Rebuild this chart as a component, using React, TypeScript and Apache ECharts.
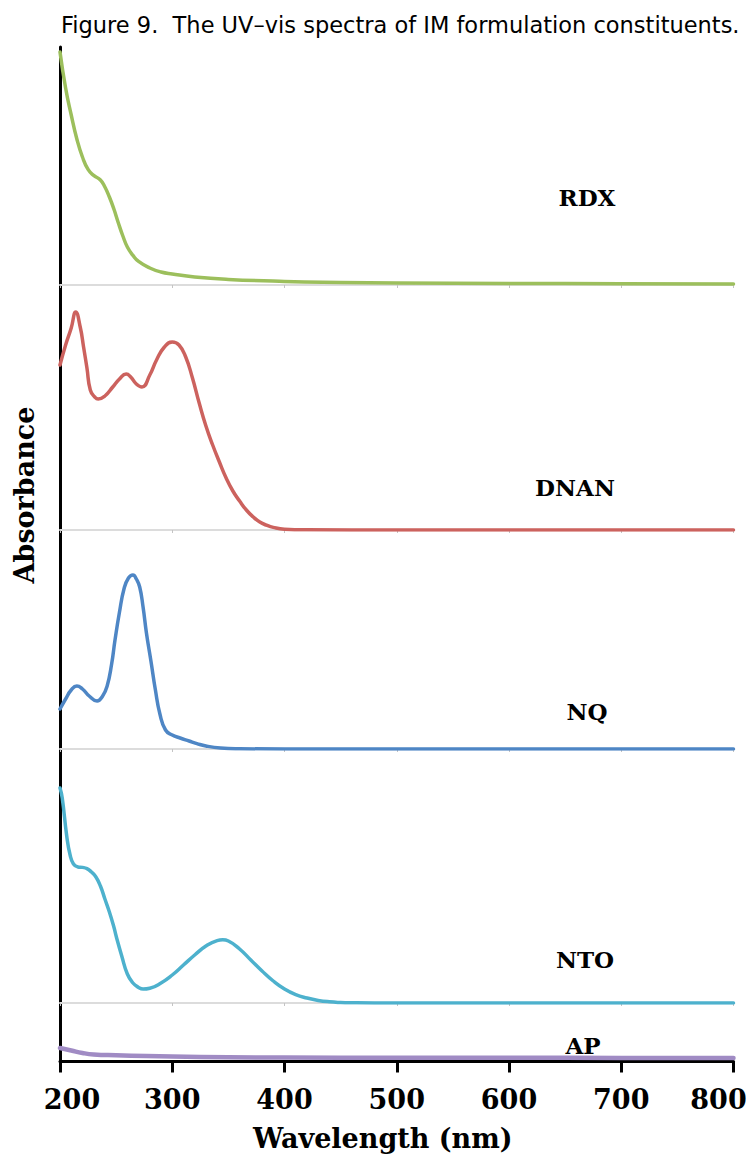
import React, { useEffect, useRef } from "react";
import * as echarts from "echarts";

// Wavelength axis (nm)
const WL_MIN = 200;
const WL_MAX = 800;
const WL_STEP = 100;

// Constituents, top to bottom
const SPECIES = ["RDX", "DNAN", "NQ", "NTO", "AP"];

// Spectra: [wavelength (nm), absorbance]
const rdx: [number, number][] = [
  [200, 1.165], [205, 0.985], [210, 0.85], [215, 0.73], [220, 0.64], [225, 0.578],
  [230, 0.548], [236, 0.525], [240, 0.49], [244, 0.44], [248, 0.38], [252, 0.31],
  [256, 0.245], [260, 0.19], [265, 0.148], [270, 0.118], [280, 0.085], [290, 0.065],
  [300, 0.055], [320, 0.04], [350, 0.028], [400, 0.018], [450, 0.013], [500, 0.01],
  [600, 0.008], [700, 0.006], [800, 0.005],
];

const dnan: [number, number][] = [
  [200, 0.825], [205, 0.925], [210, 1.01], [214, 1.09], [218, 1.015], [221, 0.915],
  [224, 0.81], [227, 0.7], [231, 0.665], [234, 0.655], [240, 0.67], [247, 0.715],
  [253, 0.755], [259, 0.78], [263, 0.765], [268, 0.73], [273, 0.715], [280, 0.775],
  [286, 0.85], [293, 0.915], [300, 0.94], [306, 0.925], [312, 0.865], [318, 0.76],
  [324, 0.635], [330, 0.52], [336, 0.425], [342, 0.34], [348, 0.26], [354, 0.195],
  [360, 0.145], [366, 0.1], [372, 0.066], [378, 0.04], [384, 0.024], [390, 0.013],
  [400, 0.004], [420, 0.001], [500, 0], [800, 0],
];

const nq: [number, number][] = [
  [200, 0.2], [205, 0.25], [210, 0.295], [215, 0.315], [220, 0.3], [226, 0.265],
  [233, 0.24], [238, 0.265], [242, 0.315], [246, 0.425], [249, 0.545], [253, 0.685],
  [257, 0.8], [261, 0.855], [265, 0.87], [268, 0.85], [271, 0.81], [274, 0.71],
  [277, 0.58], [281, 0.44], [285, 0.295], [289, 0.175], [294, 0.095], [300, 0.07],
  [307, 0.055], [315, 0.04], [322, 0.027], [330, 0.015], [343, 0.005], [360, 0.0015],
  [400, 0], [800, 0],
];

const nto: [number, number][] = [
  [200, 1.075], [202, 1.025], [206, 0.835], [209, 0.74], [212, 0.695], [216, 0.68],
  [220, 0.678], [224, 0.672], [228, 0.655], [232, 0.63], [236, 0.585], [240, 0.52],
  [244, 0.455], [248, 0.38], [250, 0.335], [255, 0.235], [260, 0.145], [265, 0.1],
  [270, 0.078], [274, 0.07], [280, 0.074], [290, 0.1], [300, 0.14], [310, 0.19],
  [320, 0.24], [330, 0.285], [340, 0.312], [345, 0.316], [350, 0.31], [360, 0.27],
  [370, 0.215], [380, 0.16], [390, 0.11], [400, 0.07], [410, 0.042], [420, 0.025],
  [430, 0.013], [440, 0.006], [450, 0.0025], [460, 0.001], [480, 0], [800, 0],
];

const ap: [number, number][] = [
  [200, 0.0675], [210, 0.055], [220, 0.0425], [230, 0.035], [250, 0.031], [277, 0.0275],
  [300, 0.025], [350, 0.0215], [400, 0.02], [500, 0.019], [600, 0.0185], [700, 0.018],
  [800, 0.018],
];

const SPECTRA = [rdx, dnan, nq, nto, ap];
const COLORS = ["#9cbf5c", "#cc625e", "#4e86c5", "#4db1cd", "#a08bc4"];
const LINE_WIDTHS = [3.5, 3.5, 3.5, 3.5, 4.5];

// Layout of the stacked panels (pixels)
const PX_PER_UNIT = 200;
const PLOT_LEFT = 60;
const PLOT_WIDTH = 673.5;
const PANELS = [
  { top: 47, height: 238, labelX: 587, labelY: 197 },
  { top: 285, height: 245, labelX: 575, labelY: 487 },
  { top: 530, height: 219, labelX: 587, labelY: 711 },
  { top: 749, height: 254, labelX: 585, labelY: 959 },
  { top: 1003, height: 58.5, labelX: 583, labelY: 1045 },
];

const SERIF = "'DejaVu Serif', 'Liberation Serif', serif";

export default function App() {
  const ref = useRef<HTMLDivElement>(null);

  useEffect(() => {
    document.body.style.margin = "0";
    if (!ref.current) return;
    const chart = echarts.init(ref.current, undefined, { renderer: "svg" });
    const last = PANELS.length - 1;

    const grid = PANELS.map((p) => ({
      left: PLOT_LEFT,
      width: PLOT_WIDTH,
      top: p.top,
      height: p.height,
      outerBoundsMode: "none",
    }));

    const xAxis = PANELS.map((_, i) => {
      const bottom = i === last;
      return {
        type: "value",
        gridIndex: i,
        min: WL_MIN,
        max: WL_MAX,
        interval: WL_STEP,
        splitLine: { show: false },
        axisLine: {
          show: true,
          onZero: false,
          lineStyle: bottom ? { color: "#000", width: 3 } : { color: "#dcdcdc", width: 2 },
        },
        axisTick: {
          show: true,
          length: bottom ? 11 : 3,
          lineStyle: bottom ? { color: "#000", width: 3 } : { color: "#c4c4c4", width: 1 },
        },
        axisLabel: bottom
          ? {
              show: true,
              margin: 24,
              showMinLabel: true,
              showMaxLabel: true,
              formatter: (v: number) =>
                v === WL_MIN ? `{first|${v}}` : v === WL_MAX ? `{last|${v}}` : `{base|${v}}`,
              rich: {
                base: { fontFamily: SERIF, fontWeight: "bold", fontSize: 27, color: "#000" },
                first: {
                  fontFamily: SERIF, fontWeight: "bold", fontSize: 27, color: "#000",
                  padding: [0, 0, 0, 24],
                },
                last: {
                  fontFamily: SERIF, fontWeight: "bold", fontSize: 27, color: "#000",
                  padding: [0, 30, 0, 0],
                },
              },
            }
          : { show: false },
        name: bottom ? "Wavelength (nm)" : "",
        nameLocation: "middle",
        nameGap: 63,
        nameTextStyle: {
          fontFamily: SERIF,
          fontWeight: "bold",
          fontSize: 27,
          color: "#000",
          padding: [0, 28, 0, 0],
        },
      };
    });

    const yAxis = PANELS.map((p, i) => ({
      type: "value",
      gridIndex: i,
      min: 0,
      max: p.height / PX_PER_UNIT,
      axisLine: { show: true, onZero: false, lineStyle: { color: "#000", width: 3 } },
      axisTick: { show: false },
      axisLabel: { show: false },
      splitLine: { show: false },
    }));

    const series = SPECTRA.map((data, i) => ({
      name: SPECIES[i],
      type: "line",
      xAxisIndex: i,
      yAxisIndex: i,
      data,
      showSymbol: false,
      symbol: "none",
      smooth: 0.5,
      lineStyle: { color: COLORS[i], width: LINE_WIDTHS[i], cap: "round", join: "round" },
      z: 3,
    }));

    const labels = PANELS.map((p, i) => ({
      type: "text",
      x: p.labelX,
      y: p.labelY,
      z: 10,
      style: {
        text: SPECIES[i],
        font: `bold 23px ${SERIF}`,
        fill: "#000",
        align: "center",
        verticalAlign: "middle",
      },
    }));

    chart.setOption({
      animation: false,
      backgroundColor: "#fff",
      title: {
        text: "Figure 9.  The UV\u2013vis spectra of IM formulation constituents.",
        left: 61,
        top: 13,
        padding: 0,
        textStyle: {
          fontFamily: "'DejaVu Sans', 'Liberation Sans', sans-serif",
          fontWeight: "normal",
          fontSize: 22.5,
          color: "#000",
        },
      },
      grid,
      xAxis,
      yAxis,
      series,
      graphic: [
        ...labels,
        {
          type: "text",
          x: 24,
          y: 495,
          rotation: Math.PI / 2,
          style: {
            text: "Absorbance",
            font: `bold 27px ${SERIF}`,
            fill: "#000",
            align: "center",
            verticalAlign: "middle",
          },
        },
      ],
    });

    return () => chart.dispose();
  }, []);

  return <div ref={ref} style={{ width: 746, height: 1159 }} />;
}
